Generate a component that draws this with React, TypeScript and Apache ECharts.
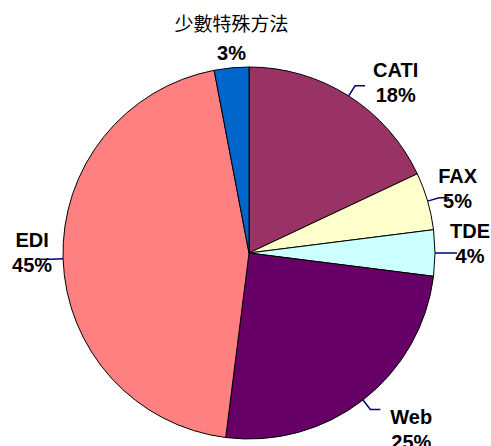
import { useEffect, useRef } from 'react';
import * as echarts from 'echarts';

const categories = ['CATI', 'FAX', 'TDE', 'Web', 'EDI', '少數特殊方法'];
const values = [18, 5, 4, 25, 45, 3];
const colors = ['#993366', '#FFFFCC', '#CCFFFF', '#660066', '#FF8080', '#0066CC'];
// label nudges [dx, dy] relative to ECharts' default outside placement
const labelNudges = [
  [3, -3],
  [-16, -9],
  [-12, -10],
  [5, 20],
  [16, -7],
  [5, -2],
];

export default function App() {
  const ref = useRef<HTMLDivElement>(null);
  useEffect(() => {
    document.body.style.margin = '0';
    const chart = echarts.init(ref.current!, null, { renderer: 'svg' });
    const data = categories.map((name, i) => ({
      name,
      value: values[i],
      itemStyle: { color: colors[i] },
      ...(i === 5
        ? { label: { formatter: '{t|{b}}\n{p|{c}%}' }, labelLine: { show: false, length: 0, length2: 0 } }
        : {}),
    }));
    const bold = {
      fontFamily: 'Liberation Sans, Arial, sans-serif',
      fontWeight: 'bold',
      fontSize: 20,
      color: '#000',
      align: 'center',
      lineHeight: 25,
    };
    chart.setOption({
      animation: false,
      series: [
        {
          type: 'pie',
          center: [249, 253],
          radius: 186,
          startAngle: 90,
          clockwise: true,
          avoidLabelOverlap: false,
          data,
          itemStyle: { borderColor: '#000', borderWidth: 1 },
          label: {
            show: true,
            position: 'outside',
            formatter: '{n|{b}}\n{p|{c}%}',
            rich: {
              n: bold,
              p: bold,
              t: {
                fontFamily: 'Noto Sans CJK TC, sans-serif',
                fontSize: 19,
                color: '#000',
                align: 'center',
                lineHeight: 36,
              },
            },
          },
          labelLine: { show: true, length: 12, length2: 10, lineStyle: { color: '#000080', width: 1.5 } },
          labelLayout: (params: any) => {
            const [dx, dy] = labelNudges[params.dataIndex];
            if (params.dataIndex === 5) {
              return { align: 'center', verticalAlign: 'bottom', dx, dy };
            }
            return { dx, dy };
          },
        },
      ],
    });
    return () => chart.dispose();
  }, []);
  return <div ref={ref} style={{ width: 491, height: 446 }} />;
}
